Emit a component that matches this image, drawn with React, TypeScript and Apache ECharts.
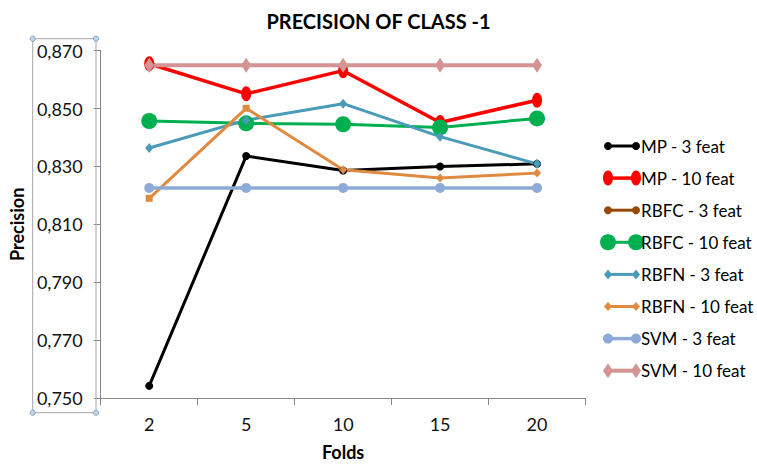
import React, { useEffect, useRef } from "react";
import * as echarts from "echarts";

const folds = ["2", "5", "10", "15", "20"];
const seriesNames = [
  "MP - 3 feat",
  "MP - 10 feat",
  "RBFC - 3 feat",
  "RBFC - 10 feat",
  "RBFN - 3 feat",
  "RBFN - 10 feat",
  "SVM - 3 feat",
  "SVM - 10 feat",
];
const mp3 = [0.7542, 0.8336, 0.8286, 0.83, 0.8309];
const mp10 = [0.8655, 0.8551, 0.8631, 0.8452, 0.8529];
const rbfc3: (number | null)[] = [null, null, null, null, null];
const rbfc10 = [0.8457, 0.8449, 0.8446, 0.8435, 0.8466];
const rbfn3 = [0.8364, 0.846, 0.8517, 0.8403, 0.8309];
const rbfn10 = [0.819, 0.8501, 0.8289, 0.826, 0.8277];
const svm3 = [0.8226, 0.8226, 0.8226, 0.8226, 0.8226];
const svm10 = [0.865, 0.865, 0.865, 0.865, 0.865];
const yTicks = { min: 0.75, max: 0.87, step: 0.02 };

const allValues = [mp3, mp10, rbfc3, rbfc10, rbfn3, rbfn10, svm3, svm10];

const ELLIPSE =
  "path://M0,7.5 C0,3.36 2.24,0 5,0 C7.76,0 10,3.36 10,7.5 C10,11.64 7.76,15 5,15 C2.24,15 0,11.64 0,7.5 Z";

type Mark = { kind: "circle" | "ellipse" | "diamond" | "rect"; w: number; h: number };
const looks: { color: string; width: number; mark: Mark; pointMarks?: (Mark | null)[] }[] = [
  { color: "#000000", width: 3, mark: { kind: "circle", w: 8, h: 8 } },
  { color: "#ff0000", width: 3.5, mark: { kind: "ellipse", w: 10, h: 15 } },
  { color: "#984807", width: 3, mark: { kind: "circle", w: 8, h: 8 } },
  { color: "#00b050", width: 3, mark: { kind: "circle", w: 16, h: 16 } },
  { color: "#4a9bb7", width: 3, mark: { kind: "diamond", w: 8, h: 10 } },
  {
    color: "#e08a40",
    width: 3,
    mark: { kind: "diamond", w: 8, h: 9 },
    pointMarks: [
      { kind: "rect", w: 7, h: 7 },
      { kind: "rect", w: 7, h: 7 },
      null,
      null,
      null,
    ],
  },
  { color: "#8eaad6", width: 3.5, mark: { kind: "circle", w: 10, h: 10 } },
  { color: "#d49494", width: 4, mark: { kind: "diamond", w: 10, h: 15 } },
];

const symbolOf = (m: Mark) =>
  m.kind === "ellipse" ? ELLIPSE : m.kind === "diamond" ? "diamond" : m.kind === "rect" ? "rect" : "circle";

const FONT = "Lato";

function legendMarker(m: Mark, cx: number, color: string) {
  if (m.kind === "circle") return { type: "circle", shape: { cx, cy: 0, r: m.w / 2 }, style: { fill: color } };
  if (m.kind === "ellipse")
    return { type: "ellipse", shape: { cx, cy: 0, rx: m.w / 2, ry: m.h / 2 }, style: { fill: color } };
  if (m.kind === "rect")
    return { type: "rect", shape: { x: cx - m.w / 2, y: -m.h / 2, width: m.w, height: m.h }, style: { fill: color } };
  return {
    type: "polygon",
    shape: {
      points: [
        [cx, -m.h / 2],
        [cx + m.w / 2, 0],
        [cx, m.h / 2],
        [cx - m.w / 2, 0],
      ],
    },
    style: { fill: color },
  };
}

export default function App() {
  const ref = useRef<HTMLDivElement>(null);
  useEffect(() => {
    document.body.style.margin = "0";
    if (!ref.current) return;
    const chart = echarts.init(ref.current, undefined, { renderer: "svg" });

    const series = allValues.map((vals, i) => {
      const lk = looks[i];
      return {
        name: seriesNames[i],
        type: "line",
        data: vals.map((v, j) => {
          const pm = lk.pointMarks ? lk.pointMarks[j] : null;
          if (pm) return { value: v, symbol: symbolOf(pm), symbolSize: [pm.w, pm.h] };
          return v;
        }),
        symbol: symbolOf(lk.mark),
        symbolSize: [lk.mark.w, lk.mark.h],
        showAllSymbol: true,
        connectNulls: false,
        lineStyle: { color: lk.color, width: lk.width },
        itemStyle: { color: lk.color, borderWidth: 0 },
        emphasis: { disabled: true },
        z: 2,
      };
    });

    const legendItems = seriesNames.map((name, i) => {
      const lk = looks[i];
      return {
        type: "group",
        x: 608,
        y: 146 + i * 32.1,
        children: [
          { type: "line", shape: { x1: 0, y1: 0, x2: 28, y2: 0 }, style: { stroke: lk.color, lineWidth: lk.width } },
          legendMarker(lk.mark, 0, lk.color),
          legendMarker(lk.mark, 28, lk.color),
          {
            type: "text",
            x: 33,
            y: 0,
            style: {
              text: name,
              fontSize: 17,
              fontFamily: FONT,
              fill: "#000",
              verticalAlign: "middle",
              align: "left",
            },
          },
        ],
      };
    });

    const box = { x: 32.7, y: 38.7, w: 63.3, h: 374 };
    const corners = [
      [box.x, box.y],
      [box.x + box.w, box.y],
      [box.x, box.y + box.h],
      [box.x + box.w, box.y + box.h],
    ];

    chart.setOption({
      animation: false,
      backgroundColor: "#ffffff",
      title: {
        text: "PRECISION OF CLASS -1",
        left: "center",
        top: 6,
        textStyle: { fontFamily: FONT, fontWeight: "bold", fontSize: 20, color: "#000" },
      },
      grid: { left: 96, right: 171.5, top: 50.7, bottom: 64.3, containLabel: false },
      xAxis: {
        type: "category",
        data: folds,
        boundaryGap: true,
        name: "Folds",
        nameLocation: "middle",
        nameGap: 45,
        nameTextStyle: { fontFamily: FONT, fontWeight: "bold", fontSize: 18, color: "#000" },
        axisLine: { show: true, lineStyle: { color: "#868686", width: 1 } },
        axisTick: { show: true, alignWithLabel: false, length: 7, lineStyle: { color: "#868686" } },
        axisLabel: { fontFamily: FONT, fontSize: 18, color: "#111", margin: 17 },
        splitLine: { show: false },
      },
      yAxis: {
        type: "value",
        min: yTicks.min,
        max: yTicks.max,
        interval: yTicks.step,
        name: "Precision",
        nameLocation: "middle",
        nameGap: 69,
        nameRotate: 90,
        nameTextStyle: { fontFamily: FONT, fontWeight: "bold", fontSize: 18, color: "#000" },
        axisLine: { show: true, lineStyle: { color: "#868686", width: 1 } },
        axisTick: { show: true, length: 7, lineStyle: { color: "#868686" } },
        axisLabel: {
          fontFamily: FONT,
          fontSize: 18,
          color: "#111",
          margin: 18,
          formatter: (v: number) => v.toFixed(3).replace(".", ","),
        },
        splitLine: { show: false },
      },
      tooltip: { show: false },
      series,
      graphic: [
        {
          type: "rect",
          shape: { x: box.x, y: box.y, width: box.w, height: box.h },
          style: { fill: "none", stroke: "#a6a6a6", lineWidth: 1 },
          z: 10,
        },
        ...corners.map(([cx, cy]) => ({
          type: "circle",
          shape: { cx, cy, r: 2.6 },
          style: { fill: "#c3d3e6", stroke: "#84a3c6", lineWidth: 1 },
          z: 11,
        })),
        ...legendItems,
      ],
    });
    return () => chart.dispose();
  }, []);
  return <div ref={ref} style={{ width: 757, height: 466 }} />;
}
